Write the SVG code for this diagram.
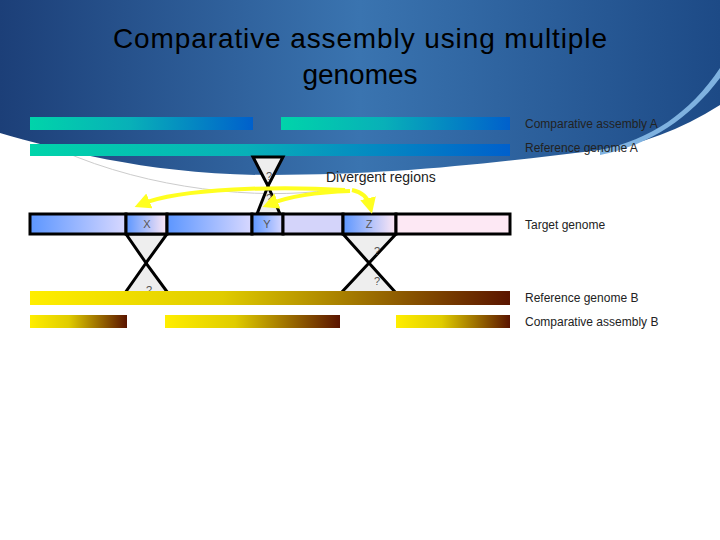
<svg xmlns="http://www.w3.org/2000/svg" width="720" height="540" viewBox="0 0 720 540">
<defs>
<linearGradient id="bg" x1="0" y1="0" x2="1" y2="0"><stop offset="0" stop-color="#1c3f78"/><stop offset="0.5" stop-color="#3a74b0"/><stop offset="1" stop-color="#1d4a86"/></linearGradient>
<linearGradient id="ga" x1="0" y1="0" x2="1" y2="0"><stop offset="0" stop-color="#00d4aa"/><stop offset="0.45" stop-color="#08b0b8"/><stop offset="1" stop-color="#0060cc"/></linearGradient>
<linearGradient id="gb" x1="0" y1="0" x2="1" y2="0"><stop offset="0" stop-color="#ffee00"/><stop offset="0.4" stop-color="#e0cc00"/><stop offset="1" stop-color="#5a1400"/></linearGradient>
<linearGradient id="gt" x1="0" y1="0" x2="1" y2="0"><stop offset="0" stop-color="#5c96ff"/><stop offset="1" stop-color="#d8d8ff"/></linearGradient>
<linearGradient id="gs" x1="0" y1="0" x2="1" y2="0"><stop offset="0" stop-color="#5c96ff"/><stop offset="1" stop-color="#ffe8f4"/></linearGradient>
<marker id="ah" viewBox="0 0 10 10" refX="5" refY="5" markerWidth="4" markerHeight="4" orient="auto"><path d="M0,0L10,5L0,10z" fill="#ffff20"/></marker>
<style>
.lbl{font-family:"Liberation Sans",Arial,sans-serif;font-size:12px;fill:#222}
.q{font-family:"Liberation Sans",Arial,sans-serif;font-size:11px;fill:#555}
.seg{stroke:#000;stroke-width:3}
.hg{fill:#eeeeee;stroke:#000;stroke-width:3}
.arr{fill:none;stroke:#ffff20;stroke-width:4;marker-end:url(#ah)}
</style>
</defs>
<rect width="720" height="540" fill="#fff"/>
<path d="M0,0H720V105C680,130 640,145 600,150C500,162 400,175 270,175C150,175 60,150 0,133Z" fill="url(#bg)"/>
<path d="M720,78C690,118 650,145 600,155L600,150C650,140 690,113 720,68Z" fill="#7fb2e0"/>
<path d="M60,150C150,190 260,200 330,190" fill="none" stroke="#ccc" stroke-width="1"/>
<g id="title"><text x="360" y="48" text-anchor="middle" font-family="Liberation Sans,Arial,sans-serif" font-size="28" fill="#000" textLength="494">Comparative assembly using multiple</text><text x="360" y="84" text-anchor="middle" font-family="Liberation Sans,Arial,sans-serif" font-size="28" fill="#000">genomes</text></g>
<g id="compA"><rect x="30" y="117" width="223" height="13" fill="url(#ga)"/><rect x="281" y="117" width="229" height="13" fill="url(#ga)"/><text class="lbl" x="525" y="128">Comparative assembly A</text></g>
<g id="refA"><rect x="30" y="144" width="480" height="12" fill="url(#ga)"/><text class="lbl" x="525" y="152">Reference genome A</text></g>
<g id="hgY"><path class="hg" d="M253,157H283L268,186Z M268,186L257,214H280Z"/><text class="q" x="266" y="180">?</text><text class="q" x="266" y="202">?</text></g>
<g id="hgX"><path class="hg" d="M126,234H167L146,263Z M146,263L125,293H168Z"/><text class="q" x="146" y="294">?</text></g>
<g id="hgZ"><path class="hg" d="M343,234H396L369,263Z M369,263L341,293H396Z"/><text class="q" x="374" y="255">?</text><text class="q" x="374" y="285">?</text></g>
<g id="target">
<rect x="30" y="214" width="96" height="20" fill="url(#gt)" class="seg"/>
<rect x="126" y="214" width="41" height="20" fill="url(#gs)" class="seg"/>
<rect x="167" y="214" width="85" height="20" fill="url(#gt)" class="seg"/>
<rect x="252" y="214" width="31" height="20" fill="url(#gt)" class="seg"/>
<rect x="283" y="214" width="60" height="20" fill="#d4d4fa" class="seg"/>
<rect x="343" y="214" width="53" height="20" fill="url(#gs)" class="seg"/>
<rect x="396" y="214" width="114" height="20" fill="#fde8f4" class="seg"/>
<text class="q" x="147" y="228" text-anchor="middle" fill="#bbb">X</text>
<text class="q" x="267" y="228" text-anchor="middle" fill="#333">Y</text>
<text class="q" x="369" y="228" text-anchor="middle" fill="#333">Z</text>
<text class="lbl" x="525" y="229">Target genome</text></g>
<g id="refB"><rect x="30" y="291" width="480" height="14" fill="url(#gb)"/><text class="lbl" x="525" y="302">Reference genome B</text></g>
<g id="compB"><rect x="30" y="315" width="97" height="13" fill="url(#gb)"/><rect x="165" y="315" width="175" height="13" fill="url(#gb)"/><rect x="396" y="315" width="114" height="13" fill="url(#gb)"/><text class="lbl" x="525" y="326">Comparative assembly B</text></g>
<g id="connectors">
<path class="arr" d="M345,190C280,186 180,188 142,204"/>
<path class="arr" d="M350,191C320,192 290,196 270,204"/>
<path class="arr" d="M352,190C362,192 368,198 370,206"/>
</g>
<text x="326" y="182" font-family="Liberation Sans,Arial,sans-serif" font-size="14" fill="#222">Divergent regions</text>
</svg>
